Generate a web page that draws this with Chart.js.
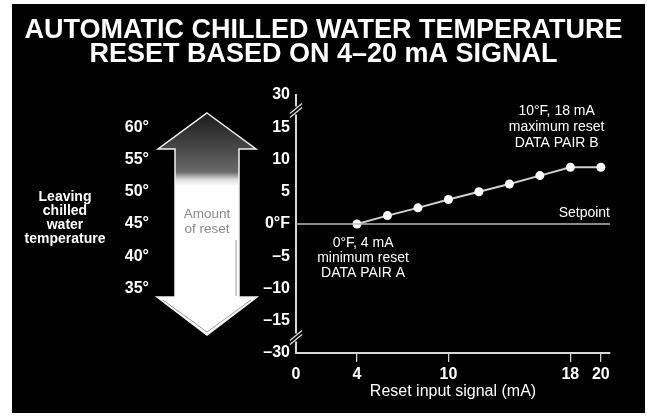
<!DOCTYPE html>
<html><head><meta charset="utf-8">
<script src="https://cdn.jsdelivr.net/npm/chart.js@4.4.0/dist/chart.umd.min.js"></script>
<style>html,body{margin:0;padding:0;background:#fff;overflow:hidden}#wrap{width:647px;height:419px;position:relative}</style>
</head><body><div id="wrap"><canvas id="c" width="647" height="419"></canvas></div>
<script>
const signalMA = [4, 6, 8, 10, 12, 14, 16, 18, 20];
const resetF = [0, 1.3, 2.5, 3.8, 5.0, 6.2, 7.5, 8.8, 8.8];
const setpointMA = [0, 20.6];
const setpointF = [0, 0];
const xTickValues = [0, 4, 10, 18, 20];
const yTickValues = [-20, -15, -10, -5, 0, 5, 10, 15, 20];
const yTickLabels = ['–30', '–15', '–10', '–5', '0°F', '5', '10', '15', '30'];
const tempLabels = ['60°', '55°', '50°', '45°', '40°', '35°'];
const tempOffsets = [15, 10, 5, 0, -5, -10];
const titleLines = ['AUTOMATIC CHILLED WATER TEMPERATURE', 'RESET BASED ON 4–20 mA SIGNAL'];
const noteB = ['10°F, 18 mA', 'maximum reset', 'DATA PAIR B'];
const noteA = ['0°F, 4 mA', 'minimum reset', 'DATA PAIR A'];
const leftLabel = ['Leaving', 'chilled', 'water', 'temperature'];
const arrowLabel = ['Amount', 'of reset'];

const FONT = '"Liberation Sans", Arial, Helvetica, sans-serif';

const decor = {
  id: 'decor',
  beforeDraw(chart) {
    const ctx = chart.ctx;
    ctx.save();
    ctx.fillStyle = '#fff';
    ctx.fillRect(0, 0, chart.width, chart.height);
    ctx.fillStyle = '#000';
    ctx.fillRect(12, 4, 633, 409);
    // arrow
    const g = ctx.createLinearGradient(0, 113, 0, 335);
    g.addColorStop(0, '#1c1c1c');
    g.addColorStop(0.167, '#4a4a4a');
    g.addColorStop(0.266, '#6a6a6a');
    g.addColorStop(0.30, '#dcdcdc');
    g.addColorStop(0.33, '#ffffff');
    g.addColorStop(1, '#ffffff');
    ctx.beginPath();
    ctx.moveTo(207, 113);
    ctx.lineTo(256, 149);
    ctx.lineTo(239, 149);
    ctx.lineTo(239, 297);
    ctx.lineTo(257, 297);
    ctx.lineTo(207, 335);
    ctx.lineTo(157, 297);
    ctx.lineTo(175, 297);
    ctx.lineTo(175, 149);
    ctx.lineTo(158, 149);
    ctx.closePath();
    ctx.fillStyle = g;
    ctx.fill();
    ctx.strokeStyle = '#f4f4f4';
    ctx.lineWidth = 1.5;
    ctx.stroke();
    ctx.strokeStyle = '#9a9a9a';
    ctx.lineWidth = 1;
    ctx.beginPath();
    ctx.moveTo(163, 300); ctx.lineTo(207, 332); ctx.lineTo(251, 300);
    ctx.moveTo(236, 240); ctx.lineTo(236, 296);
    ctx.stroke();
    // arrow label
    ctx.fillStyle = '#8a8a8a';
    ctx.font = '13.5px ' + FONT;
    ctx.textAlign = 'center';
    ctx.textBaseline = 'middle';
    arrowLabel.forEach((t, i) => ctx.fillText(t, 207, 214 + i * 15));
    // left label
    ctx.fillStyle = '#fff';
    ctx.font = 'bold 14px ' + FONT;
    leftLabel.forEach((t, i) => ctx.fillText(t, 65, 197 + i * 14));
    // temperature labels tied to the y scale
    const ys = chart.scales.y;
    ctx.font = 'bold 16px ' + FONT;
    ctx.textAlign = 'right';
    tempLabels.forEach((t, i) => ctx.fillText(t, 149, ys.getPixelForValue(tempOffsets[i])));
    ctx.restore();
  },
  afterDraw(chart) {
    const ctx = chart.ctx;
    const xs = chart.scales.x, ys = chart.scales.y;
    ctx.save();
    // axis breaks
    const ax = xs.left;
    [17.6, -17.6].forEach(v => {
      const py = ys.getPixelForValue(v);
      ctx.fillStyle = '#000';
      ctx.fillRect(ax - 3, py - 4, 6, 8);
      ctx.strokeStyle = '#ddd';
      ctx.lineWidth = 1.3;
      ctx.beginPath();
      ctx.moveTo(ax - 6, py + 3); ctx.lineTo(ax + 6, py - 7);
      ctx.moveTo(ax - 6, py + 7); ctx.lineTo(ax + 6, py - 3);
      ctx.stroke();
    });
    // notes
    ctx.fillStyle = '#fff';
    ctx.font = '14px ' + FONT;
    ctx.textAlign = 'center';
    ctx.textBaseline = 'middle';
    noteB.forEach((t, i) => ctx.fillText(t, xs.getPixelForValue(17.1), ys.getPixelForValue(17.5) + i * 16));
    noteA.forEach((t, i) => ctx.fillText(t, xs.getPixelForValue(4.4), ys.getPixelForValue(-3) + i * 15));
    ctx.textAlign = 'right';
    ctx.fillText('Setpoint', xs.right, ys.getPixelForValue(1.7));
    ctx.restore();
  }
};

new Chart(document.getElementById('c'), {
  type: 'scatter',
  data: {
    datasets: [
      {
        label: 'Setpoint',
        data: setpointMA.map((x, i) => ({ x, y: setpointF[i] })),
        showLine: true,
        borderColor: '#b8b8b8',
        borderWidth: 1.5,
        pointRadius: 0,
        clip: false
      },
      {
        label: 'Reset',
        data: signalMA.map((x, i) => ({ x, y: resetF[i] })),
        showLine: true,
        borderColor: '#d0d0d0',
        borderWidth: 2,
        pointRadius: 4.5,
        pointBackgroundColor: '#fff',
        pointBorderWidth: 0
      }
    ]
  },
  options: {
    responsive: false,
    devicePixelRatio: 1,
    animation: false,
    events: [],
    layout: { padding: { top: 0, left: 0, right: 0, bottom: 0 } },
    plugins: {
      legend: { display: false },
      tooltip: { enabled: false },
      title: {
        display: true,
        text: titleLines,
        color: '#fff',
        font: { family: FONT, size: 27, weight: 'bold', lineHeight: 0.87 },
        padding: { top: 19, bottom: 29 }
      }
    },
    scales: {
      x: {
        type: 'linear',
        min: 0,
        max: 20.6,
        afterBuildTicks: s => { s.ticks = xTickValues.map(v => ({ value: v })); },
        afterFit: s => { s.height = 66; },
        grid: {
          drawOnChartArea: false,
          drawTicks: true,
          tickLength: 9,
          color: c => (c.tick && c.tick.value === 0) ? 'rgba(0,0,0,0)' : '#cfcfcf',
          lineWidth: 1.3
        },
        border: { display: true, color: '#d8d8d8', width: 2 },
        ticks: { color: '#fff', font: { family: FONT, size: 16, weight: 'bold' }, padding: 3, autoSkip: false, maxRotation: 0 },
        title: { display: true, text: 'Reset input signal (mA)', color: '#fff', font: { family: FONT, size: 16 }, padding: { top: 0, bottom: 18 } }
      },
      y: {
        type: 'linear',
        min: -20,
        max: 20,
        afterBuildTicks: s => { s.ticks = yTickValues.map(v => ({ value: v })); },
        afterFit: s => { s.width = 296; },
        grid: { display: false, drawTicks: false },
        border: { display: true, color: '#d8d8d8', width: 2 },
        ticks: {
          color: '#fff',
          font: { family: FONT, size: 16, weight: 'bold' },
          padding: 6,
          callback: v => yTickLabels[yTickValues.indexOf(v)]
        }
      },
      yR: {
        type: 'linear',
        position: 'right',
        afterFit: s => { s.width = 37; },
        grid: { display: false, drawTicks: false },
        border: { display: false },
        ticks: { display: false }
      }
    }
  },
  plugins: [decor]
});
</script>
</body></html>
